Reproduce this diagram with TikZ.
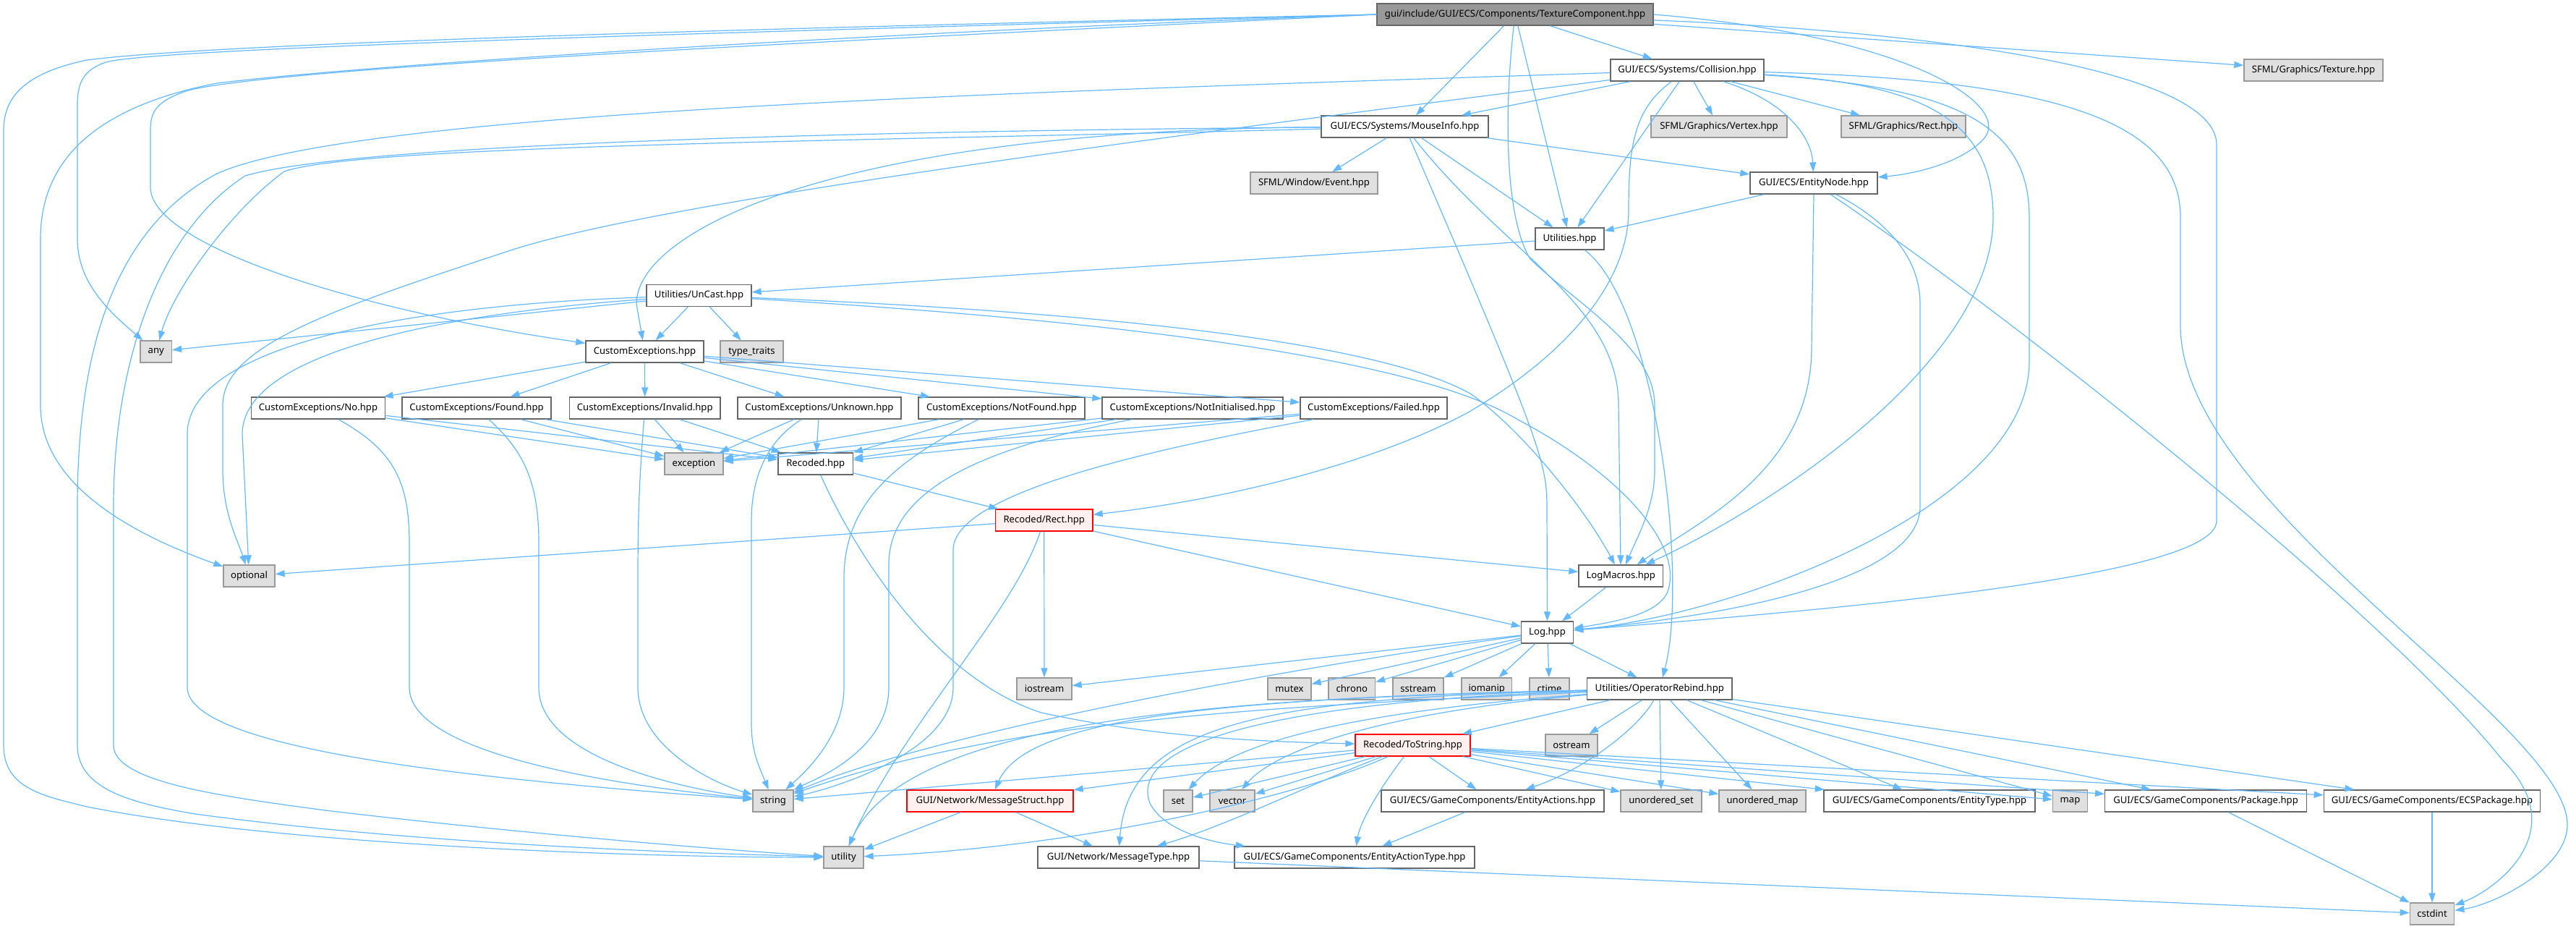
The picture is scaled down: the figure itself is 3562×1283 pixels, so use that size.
\documentclass[tikz,border=0pt]{standalone}
\usepackage{fontspec}
\setmainfont{Noto Sans}
\usetikzlibrary{arrows.meta}
\definecolor{edgeblue}{HTML}{63B8FF}
\definecolor{boxline}{HTML}{666666}
\definecolor{sysline}{HTML}{999999}
\definecolor{sysfill}{HTML}{E0E0E0}
\definecolor{errfill}{HTML}{FFF0F0}
\begin{document}
\begin{tikzpicture}[x=1pt, y=-1pt,
    filebox/.style={draw=boxline, fill=white, line width=1.3pt, minimum height=30pt,
        inner xsep=2pt, inner ysep=0pt, font=\fontsize{13.1}{15}\selectfont},
    sysbox/.style={filebox, draw=sysline, fill=sysfill},
    errbox/.style={filebox, draw=red, fill=errfill},
    topbox/.style={filebox, fill=sysline},
    dep/.style={draw=edgeblue, line width=1.2pt, -{Triangle[length=13pt,width=9pt]}}]
    \useasboundingbox (0,0) rectangle (3562,1283);

    \node[topbox, minimum width=382pt] (main) at (2095,20) {gui/include/GUI/ECS/Components/TextureComponent.hpp};
    \node[filebox, minimum width=212pt] (collision) at (2333,97) {GUI/ECS/Systems/Collision.hpp};
    \node[sysbox, minimum width=192pt] (texture) at (3199,97) {SFML/Graphics/Texture.hpp};
    \node[filebox, minimum width=231pt] (mouseinfo) at (1942.5,175) {GUI/ECS/Systems/MouseInfo.hpp};
    \node[sysbox, minimum width=188pt] (vertex) at (2377,175) {SFML/Graphics/Vertex.hpp};
    \node[sysbox, minimum width=172pt] (sfrect) at (2632,175) {SFML/Graphics/Rect.hpp};
    \node[sysbox, minimum width=176pt] (event) at (1817,253) {SFML/Window/Event.hpp};
    \node[filebox, minimum width=176pt] (entitynode) at (2508,253) {GUI/ECS/EntityNode.hpp};
    \node[filebox, minimum width=95pt] (utilities) at (2170.5,330) {Utilities.hpp};
    \node[filebox, minimum width=145pt] (uncast) at (966.5,408.5) {Utilities/UnCast.hpp};
    \node[sysbox, minimum width=43.5pt] (any) at (215.75,486) {any};
    \node[filebox, minimum width=163pt] (customexc) at (891.5,486) {CustomExceptions.hpp};
    \node[sysbox, minimum width=87pt] (typetraits) at (1039.5,486) {type\_traits};
    \node[filebox, minimum width=185.6pt] (exno) at (440,564) {CustomExceptions/No.hpp};
    \node[filebox, minimum width=206pt] (exfound) at (659,564) {CustomExceptions/Found.hpp};
    \node[filebox, minimum width=208.5pt] (exinvalid) at (891.75,564) {CustomExceptions/Invalid.hpp};
    \node[filebox, minimum width=226pt] (exunknown) at (1133,564) {CustomExceptions/Unknown.hpp};
    \node[filebox, minimum width=230pt] (exnotfound) at (1385,564) {CustomExceptions/NotFound.hpp};
    \node[filebox, minimum width=250pt] (exnotinit) at (1649,564) {CustomExceptions/NotInitialised.hpp};
    \node[filebox, minimum width=203pt] (exfailed) at (1899.5,564) {CustomExceptions/Failed.hpp};
    \node[sysbox, minimum width=81pt] (exception) at (959.5,641) {exception};
    \node[filebox, minimum width=103.5pt] (recoded) at (1127.75,641) {Recoded.hpp};
    \node[errbox, minimum width=134.5pt] (rect) at (1443.75,719) {Recoded/Rect.hpp};
    \node[sysbox, minimum width=71pt] (optional) at (344.5,796) {optional};
    \node[filebox, minimum width=116.5pt] (logmacros) at (2241.25,796) {LogMacros.hpp};
    \node[filebox, minimum width=72pt] (log) at (2139.5,874) {Log.hpp};
    \node[sysbox, minimum width=76pt] (iostream) at (1444,952) {iostream};
    \node[sysbox, minimum width=60pt] (mutex) at (1783,952) {mutex};
    \node[sysbox, minimum width=64.5pt] (chrono) at (1869.25,952) {chrono};
    \node[sysbox, minimum width=70pt] (sstream) at (1961,952) {sstream};
    \node[sysbox, minimum width=69.5pt] (iomanip) at (2055.75,952) {iomanip};
    \node[sysbox, minimum width=55pt] (ctime) at (2142.5,952) {ctime};
    \node[filebox, minimum width=200.4pt] (oprebind) at (2294.8,952) {Utilities/OperatorRebind.hpp};
    \node[errbox, minimum width=159pt] (tostring) at (1953.5,1030) {Recoded/ToString.hpp};
    \node[sysbox, minimum width=72pt] (ostream) at (2173,1030) {ostream};
    \node[sysbox, minimum width=56pt] (string) at (1069,1107) {string};
    \node[errbox, minimum width=230pt] (msgstruct) at (1369,1107) {GUI/Network/MessageStruct.hpp};
    \node[sysbox, minimum width=40pt] (set) at (1629,1107) {set};
    \node[sysbox, minimum width=62pt] (vector) at (1704,1107) {vector};
    \node[filebox, minimum width=308pt] (entityactions) at (2064,1107) {GUI/ECS/GameComponents/EntityActions.hpp};
    \node[sysbox, minimum width=112pt] (uset) at (2297,1107) {unordered\_set};
    \node[sysbox, minimum width=120pt] (umap) at (2437,1107) {unordered\_map};
    \node[filebox, minimum width=292pt] (entitytype) at (2668,1107) {GUI/ECS/GameComponents/EntityType.hpp};
    \node[sysbox, minimum width=48pt] (map) at (2862.5,1107) {map};
    \node[filebox, minimum width=278.5pt] (package) at (3050,1107) {GUI/ECS/GameComponents/Package.hpp};
    \node[filebox, minimum width=299.5pt] (ecspackage) at (3363,1107) {GUI/ECS/GameComponents/ECSPackage.hpp};
    \node[sysbox, minimum width=55pt] (utility) at (1166.5,1185) {utility};
    \node[filebox, minimum width=223pt] (msgtype) at (1546.5,1185) {GUI/Network/MessageType.hpp};
    \node[filebox, minimum width=332pt] (entityactiontype) at (1873,1185) {GUI/ECS/GameComponents/EntityActionType.hpp};
    \node[sysbox, minimum width=61.5pt] (cstdint) at (3363,1263) {cstdint};

    \draw[dep] (main) -- (collision);
    \draw[dep] (main) -- (mouseinfo);
    \draw[dep] (main) -- (utilities);
    \draw[dep] (main) -- (texture);
    \draw[dep] (main.east) .. controls (2650,50) and (2790,150) .. (2740,195) .. controls (2710,225) and (2650,240) .. (entitynode);
    \draw[dep] (main) .. controls (2700,45) and (3065,100) .. (3065,200) -- (3065,720) .. controls (3065,800) and (2500,845) .. (log);
    \draw[dep] (main) .. controls (2080,150) and (2080,300) .. (2116,358) .. controls (2180,420) and (2288,480) .. (2288,560) -- (2288,650) .. controls (2288,700) and (2265,740) .. (logmacros);
    \draw[dep] (main.west) .. controls (1000,40) and (300,60) .. (120,83) .. controls (40,100) and (5,130) .. (5,180) -- (5,1030) .. controls (5,1090) and (60,1100) .. (120,1115) .. controls (400,1170) and (900,1185) .. (utility);
    \draw[dep] (main.west) .. controls (1000,45) and (250,65) .. (150,85) .. controls (115,95) and (107,115) .. (107,145) -- (107,330) .. controls (107,390) and (150,430) .. (any);
    \draw[dep] (main.west) .. controls (1200,45) and (500,90) .. (300,115) .. controls (120,150) and (56,230) .. (56,330) -- (56,560) .. controls (56,660) and (160,730) .. (optional);
    \draw[dep] (main.west) .. controls (1300,50) and (400,90) .. (260,125) .. controls (215,140) and (208,155) .. (208,180) -- (208,259) .. controls (208,340) and (500,430) .. (customexc);

    \draw[dep] (collision) -- (mouseinfo);
    \draw[dep] (collision) -- (utilities);
    \draw[dep] (collision) -- (vertex);
    \draw[dep] (collision) -- (sfrect);
    \draw[dep] (collision) .. controls (2470,140) and (2505,190) .. (entitynode);
    \draw[dep] (collision) .. controls (2260,150) and (2252,200) .. (2252,290) .. controls (2252,400) and (2150,500) .. (2030,570) .. controls (1900,640) and (1700,690) .. (rect);
    \draw[dep] (collision) .. controls (2650,115) and (2756,160) .. (2756,300) .. controls (2756,500) and (2450,700) .. (logmacros);
    \draw[dep] (collision) .. controls (2700,120) and (2806,170) .. (2806,300) -- (2806,500) .. controls (2806,700) and (2400,850) .. (log);
    \draw[dep] (collision) .. controls (2850,110) and (3015,170) .. (3015,300) -- (3015,450) .. controls (3015,700) and (3550,1000) .. (3550,1140) .. controls (3550,1200) and (3450,1250) .. (cstdint);
    \draw[dep] (collision) .. controls (1500,125) and (500,150) .. (300,240) .. controls (150,320) and (107,500) .. (107,700) -- (107,1030) .. controls (107,1090) and (180,1110) .. (270,1125) .. controls (600,1170) and (1000,1180) .. (utility);
    \draw[dep] (collision) .. controls (1600,190) and (900,280) .. (700,348) .. controls (450,430) and (308,480) .. (308,560) -- (308,650) .. controls (308,710) and (330,750) .. (optional);

    \draw[dep] (mouseinfo) -- (event);
    \draw[dep] (mouseinfo) -- (utilities);
    \draw[dep] (mouseinfo) -- (entitynode);
    \draw[dep] (mouseinfo) .. controls (2130,610) and (2139,640) .. (2139,700) -- (log.north);
    \draw[dep] (mouseinfo) .. controls (2080,350) and (2238,420) .. (2238,560) -- (logmacros);
    \draw[dep] (mouseinfo) .. controls (1150,180) and (880,320) .. (880,420) -- (customexc);
    \draw[dep] (mouseinfo) .. controls (1200,195) and (500,200) .. (393,237) .. controls (320,290) and (240,400) .. (any);
    \draw[dep] (mouseinfo) .. controls (1300,180) and (500,195) .. (339,243) .. controls (220,320) and (157,500) .. (157,700) -- (157,1030) .. controls (157,1080) and (300,1100) .. (450,1120) .. controls (700,1150) and (1000,1175) .. (utility);

    \draw[dep] (entitynode) -- (utilities);
    \draw[dep] (entitynode.south) -- (2505,480) .. controls (2505,650) and (2350,720) .. (logmacros);
    \draw[dep] (entitynode) .. controls (2600,300) and (2655,350) .. (2655,420) -- (2655,700) .. controls (2655,800) and (2400,850) .. (log);
    \draw[dep] (entitynode) .. controls (2800,450) and (3300,850) .. (3460,1050) .. controls (3560,1150) and (3450,1230) .. (cstdint);

    \draw[dep] (utilities) -- (uncast);
    \draw[dep] (utilities) .. controls (2290,420) and (2335,800) .. (oprebind);

    \draw[dep] (uncast) -- (any);
    \draw[dep] (uncast) -- (customexc);
    \draw[dep] (uncast) -- (typetraits);
    \draw[dep] (uncast) .. controls (600,420) and (259,470) .. (259,600) -- (259,950) .. controls (259,1040) and (700,1080) .. (string);
    \draw[dep] (uncast) .. controls (650,430) and (335,480) .. (335,600) -- (optional);
    \draw[dep] (uncast) .. controls (1500,430) and (1900,470) .. (2033,544) .. controls (2100,590) and (2190,700) .. (logmacros);
    \draw[dep] (uncast) .. controls (1500,440) and (1950,490) .. (2099,580) .. controls (2250,660) and (2330,760) .. (2305,820) .. controls (2290,850) and (2230,860) .. (log);

    \draw[dep] (customexc) -- (exno);
    \draw[dep] (customexc) -- (exfound);
    \draw[dep] (customexc) -- (exinvalid);
    \draw[dep] (customexc) -- (exunknown);
    \draw[dep] (customexc) -- (exnotfound);
    \draw[dep] (customexc) -- (exnotinit);
    \draw[dep] (customexc) -- (exfailed);

    \draw[dep] (exno) -- (exception);
    \draw[dep] (exno) -- (recoded);
    \draw[dep] (exno) .. controls (540,620) and (566,660) .. (566,750) -- (566,950) .. controls (566,1050) and (900,1090) .. (string);
    \draw[dep] (exfound) -- (exception);
    \draw[dep] (exfound) -- (recoded);
    \draw[dep] (exfound) .. controls (720,620) and (745,660) .. (745,750) -- (745,950) .. controls (745,1050) and (950,1090) .. (string);
    \draw[dep] (exinvalid) -- (exception);
    \draw[dep] (exinvalid) -- (recoded);
    \draw[dep] (exinvalid) .. controls (885,650) and (882,700) .. (882,800) -- (882,950) .. controls (882,1030) and (980,1080) .. (string);
    \draw[dep] (exunknown) -- (exception);
    \draw[dep] (exunknown) -- (recoded);
    \draw[dep] (exunknown) .. controls (1060,610) and (1039,660) .. (1039,720) -- (1039,1000) .. controls (1039,1040) and (1050,1060) .. (string);
    \draw[dep] (exnotfound) -- (exception);
    \draw[dep] (exnotfound) -- (recoded);
    \draw[dep] (exnotfound) .. controls (1230,640) and (1167,700) .. (1167,800) -- (1167,950) .. controls (1167,1020) and (1110,1070) .. (string);
    \draw[dep] (exnotinit) -- (exception);
    \draw[dep] (exnotinit) -- (recoded);
    \draw[dep] (exnotinit) .. controls (1350,620) and (1229,680) .. (1229,780) -- (1229,950) .. controls (1229,1040) and (1120,1080) .. (string);
    \draw[dep] (exfailed) -- (exception);
    \draw[dep] (exfailed) -- (recoded);
    \draw[dep] (exfailed) .. controls (1600,620) and (1318,680) .. (1318,760) -- (1318,950) .. controls (1318,1040) and (1150,1090) .. (string);

    \draw[dep] (recoded) -- (rect);
    \draw[dep] (recoded) .. controls (1190,780) and (1300,940) .. (1440,985) .. controls (1600,1020) and (1750,1025) .. (tostring);

    \draw[dep] (rect) -- (optional);
    \draw[dep] (rect) -- (logmacros);
    \draw[dep] (rect) -- (log);
    \draw[dep] (rect) -- (iostream);
    \draw[dep] (rect) .. controls (1400,850) and (1250,1000) .. (utility);

    \draw[dep] (logmacros) -- (log);

    \draw[dep] (log) -- (iostream);
    \draw[dep] (log) -- (mutex);
    \draw[dep] (log) -- (chrono);
    \draw[dep] (log) -- (sstream);
    \draw[dep] (log) -- (iomanip);
    \draw[dep] (log) -- (ctime);
    \draw[dep] (log) -- (oprebind);
    \draw[dep] (log) .. controls (1800,920) and (1300,1010) .. (string);

    \draw[dep] (oprebind) -- (tostring);
    \draw[dep] (oprebind) -- (ostream);
    \draw[dep] (oprebind) .. controls (2270,1000) and (2200,1060) .. (entityactions);
    \draw[dep] (oprebind) -- (uset);
    \draw[dep] (oprebind) -- (umap);
    \draw[dep] (oprebind) -- (entitytype);
    \draw[dep] (oprebind) -- (map);
    \draw[dep] (oprebind) -- (package);
    \draw[dep] (oprebind) -- (ecspackage);
    \draw[dep] (oprebind) .. controls (1850,985) and (1700,1030) .. (set);
    \draw[dep] (oprebind) .. controls (1900,985) and (1760,1040) .. (vector);
    \draw[dep] (oprebind) .. controls (1800,975) and (1400,990) .. (string);
    \draw[dep] (oprebind) .. controls (1700,965) and (1420,990) .. (msgstruct);
    \draw[dep] (oprebind) .. controls (1650,965) and (1250,1000) .. (utility);
    \draw[dep] (oprebind) .. controls (1750,965) and (1560,1000) .. (msgtype);
    \draw[dep] (oprebind) .. controls (1750,970) and (1560,1030) .. (1590,1110) .. controls (1610,1150) and (1680,1165) .. (entityactiontype);

    \draw[dep] (tostring) -- (msgstruct);
    \draw[dep] (tostring) -- (string);
    \draw[dep] (tostring) -- (set);
    \draw[dep] (tostring) -- (vector);
    \draw[dep] (tostring) -- (entityactions);
    \draw[dep] (tostring) -- (uset);
    \draw[dep] (tostring) -- (umap);
    \draw[dep] (tostring) -- (entitytype);
    \draw[dep] (tostring) -- (map);
    \draw[dep] (tostring) -- (package);
    \draw[dep] (tostring) -- (ecspackage);
    \draw[dep] (tostring) .. controls (1820,1080) and (1700,1140) .. (msgtype);
    \draw[dep] (tostring) .. controls (1800,1100) and (1500,1170) .. (utility);
    \draw[dep] (tostring) .. controls (1900,1100) and (1880,1140) .. (entityactiontype);

    \draw[dep] (msgstruct) -- (utility);
    \draw[dep] (msgstruct) -- (msgtype);
    \draw[dep] (entityactions) -- (entityactiontype);
    \draw[dep] (msgtype) -- (cstdint);
    \draw[dep] (package) -- (cstdint);
    \draw[dep] (ecspackage) -- (cstdint);
\end{tikzpicture}
\end{document}
